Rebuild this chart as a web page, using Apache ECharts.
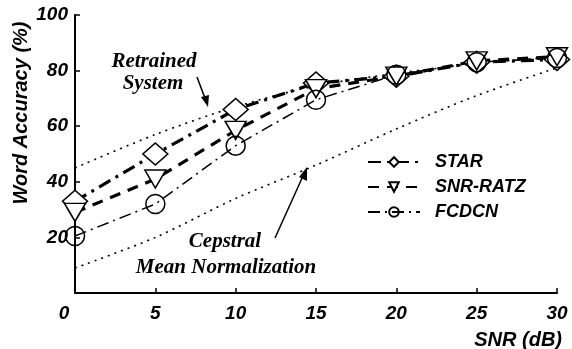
<!DOCTYPE html>
<html><head><meta charset="utf-8">
<script src="https://cdn.jsdelivr.net/npm/echarts@6/dist/echarts.min.js"></script>
<style>html,body{margin:0;padding:0;background:#fff}#c{width:572px;height:349px}</style>
</head><body><div id="c"></div>
<script>
var snr = [0, 5, 10, 15, 20, 25, 30];
var star = [33, 50, 66, 75.5, 78, 83, 84];
var snrRatz = [29, 41, 58.5, 73.5, 78, 83.5, 85];
var fcdcn = [20.5, 32, 53, 69.5, 78.5, 83, 84.5];
var retrained = [45, 57, 67, 74.5, 79, 82.5, 85];
var cmn = [9, 20, 34, 46, 59, 71, 81];
var yTicks = [0, 20, 40, 60, 80, 100];
var xTicks = [0, 5, 10, 15, 20, 25, 30];

function pairs(xs, ys){ return xs.map(function(x,i){return [x, ys[i]];}); }
var sans = '"Liberation Sans", Arial, sans-serif';
var serif = '"Liberation Serif", "Times New Roman", serif';

var chart = echarts.init(document.getElementById('c'));
chart.setOption({
  animation: false,
  backgroundColor: '#fff',
  grid: {left: 75, right: 15, top: 15, bottom: 56, containLabel: false, outerBoundsMode: 'none'},
  xAxis: {
    type: 'value', min: 0, max: 30, interval: 5,
    axisLine: {lineStyle: {color: '#000', width: 2}},
    axisTick: {inside: true, length: 5, lineStyle: {color: '#000', width: 1.5}},
    splitLine: {show: false},
    axisLabel: {color: '#000', fontFamily: sans, fontWeight: 'bold', fontStyle: 'italic', fontSize: 19, margin: 11,
      formatter: function(v){ return v === 0 ? '{z|0}' : String(v); },
      rich: {z: {color: '#000', fontFamily: sans, fontWeight: 'bold', fontStyle: 'italic', fontSize: 19, padding: [0, 22, 0, 0]}}},
    name: 'SNR (dB)', nameLocation: 'end', nameGap: 5,
    nameTextStyle: {color: '#000', fontFamily: sans, fontWeight: 'bold', fontStyle: 'italic', fontSize: 20, align: 'right', verticalAlign: 'top', padding: [37, 0, 0, 0]}
  },
  yAxis: {
    type: 'value', min: 0, max: 100, interval: 20,
    axisLine: {lineStyle: {color: '#000', width: 2}},
    axisTick: {inside: true, length: 5, lineStyle: {color: '#000', width: 1.5}},
    splitLine: {show: false},
    axisLabel: {color: '#000', fontFamily: sans, fontWeight: 'bold', fontStyle: 'italic', fontSize: 19, margin: 7,
      formatter: function(v){ return v === 0 ? '' : String(v); }}
  },
  legend: {
    orient: 'vertical', left: 362, top: 148, itemWidth: 52, itemHeight: 12, itemGap: 7,
    data: ['STAR', 'SNR-RATZ', 'FCDCN'],
    textStyle: {color: '#000', fontFamily: sans, fontWeight: 'bold', fontStyle: 'italic', fontSize: 18, padding: [0,0,0,10]}
  },
  series: [
    {name: 'Retrained', type: 'line', data: pairs(snr, retrained), showSymbol: false, smooth: 0.3,
      lineStyle: {color: '#000', width: 1.6, type: [2, 5]}, silent: true},
    {name: 'CMN', type: 'line', data: pairs(snr, cmn), showSymbol: false, smooth: 0.3,
      lineStyle: {color: '#000', width: 1.6, type: [2, 5]}, silent: true},
    {name: 'STAR', type: 'line', data: pairs(snr, star), symbol: 'diamond', symbolSize: [25, 22],
      itemStyle: {color: '#fff', borderColor: '#000', borderWidth: 1.5},
      lineStyle: {color: '#000', width: 3.2, type: [13, 6, 3, 6]}},
    {name: 'SNR-RATZ', type: 'line', data: pairs(snr, snrRatz), symbol: 'triangle', symbolRotate: 180, symbolSize: [21, 18],
      itemStyle: {color: '#fff', borderColor: '#000', borderWidth: 1.5},
      lineStyle: {color: '#000', width: 3.2, type: [11, 8]}},
    {name: 'FCDCN', type: 'line', data: pairs(snr, fcdcn), symbol: 'circle', symbolSize: 19,
      itemStyle: {color: 'rgba(255,255,255,0)', borderColor: '#000', borderWidth: 1.5},
      lineStyle: {color: '#000', width: 1.5, type: [12, 5, 2, 5]}}
  ],
  graphic: [
    {type: 'text', x: 21, y: 113, rotation: Math.PI / 2,
      style: {text: 'Word Accuracy (%)', fill: '#000', font: 'italic bold 20px ' + sans, textAlign: 'center', textVerticalAlign: 'middle'}},
    {type: 'text', x: 154, y: 62, style: {text: 'Retrained', fill: '#000', font: 'italic bold 21px ' + serif, textAlign: 'center', textVerticalAlign: 'middle'}},
    {type: 'text', x: 153, y: 84, style: {text: 'System', fill: '#000', font: 'italic bold 21px ' + serif, textAlign: 'center', textVerticalAlign: 'middle'}},
    {type: 'line', shape: {x1: 197, y1: 77, x2: 206, y2: 101}, style: {stroke: '#000', lineWidth: 1.5}},
    {type: 'polygon', shape: {points: [[208, 107], [201, 97], [209, 95]]}, style: {fill: '#000'}},
    {type: 'text', x: 225, y: 242, style: {text: 'Cepstral', fill: '#000', font: 'italic bold 21px ' + serif, textAlign: 'center', textVerticalAlign: 'middle'}},
    {type: 'text', x: 226, y: 268, style: {text: 'Mean Normalization', fill: '#000', font: 'italic bold 21px ' + serif, textAlign: 'center', textVerticalAlign: 'middle'}},
    {type: 'line', shape: {x1: 275, y1: 238, x2: 303, y2: 176}, style: {stroke: '#000', lineWidth: 1.5}},
    {type: 'polygon', shape: {points: [[307, 167], [307, 181], [299, 177]]}, style: {fill: '#000'}}
  ]
});
</script></body></html>
